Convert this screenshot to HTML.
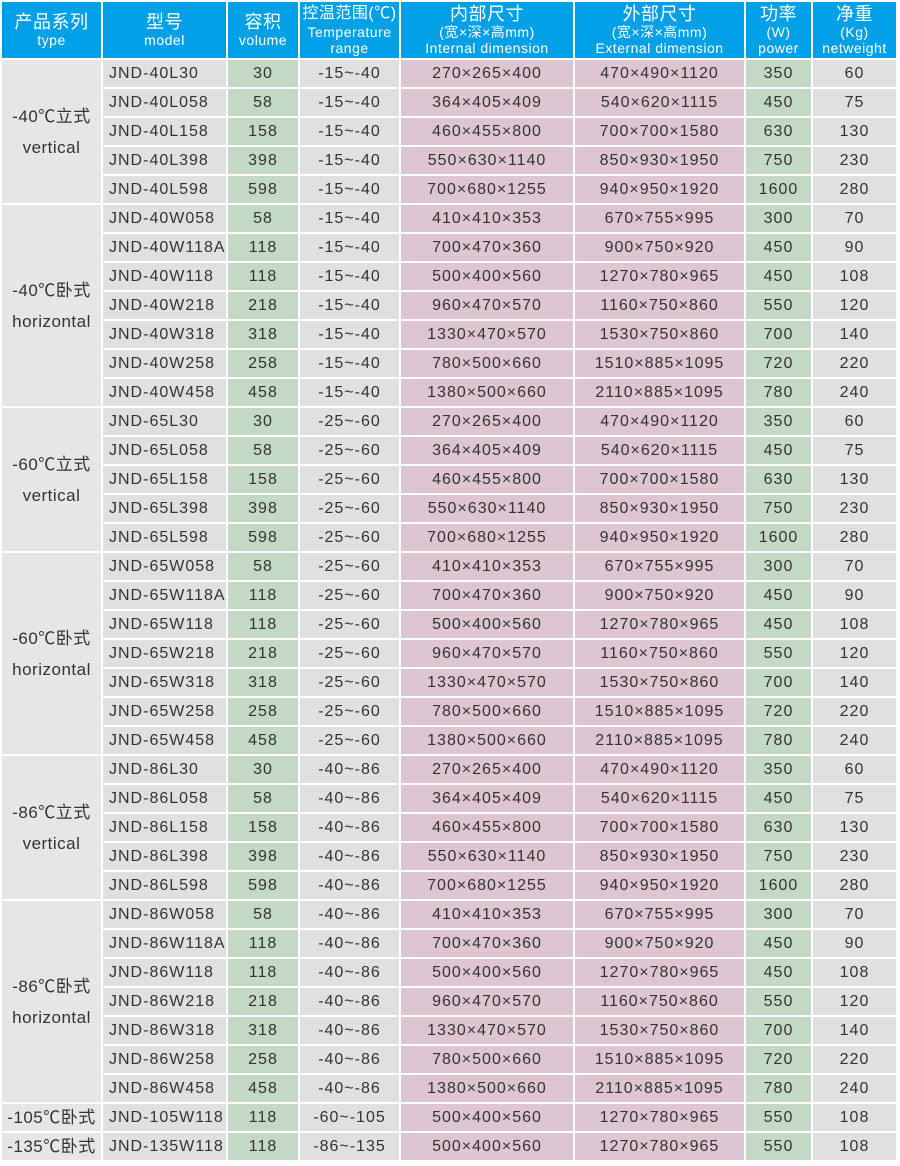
<!DOCTYPE html>
<html><head><meta charset="utf-8"><style>
body{margin:0;background:#fff;width:900px;height:1166px;overflow:hidden}
table{position:absolute;left:0;top:0;border-collapse:separate;border-spacing:2px;table-layout:fixed;width:898px;font-family:"Liberation Sans","Noto Sans CJK SC",sans-serif;color:#333;font-size:16px}
td{padding:0;height:27px;text-align:center;white-space:nowrap;overflow:hidden;letter-spacing:1px}
th{background:#00a0e6;color:#fff;font-weight:normal;height:56px;line-height:16px;font-size:14px;padding:0;letter-spacing:0.5px}
th b{font-weight:normal;font-size:18px;display:block;line-height:20px}
.t{background:#e6e6e6;font-size:17px;line-height:31px;letter-spacing:0.5px}
.m{background:#e0e0e0;text-align:left;padding-left:6px}
.g{background:#c3d8c5}
.p{background:#ddc5d1}
.w{background:#e0e0e0}
</style></head><body>
<table>
<colgroup><col style="width:99px"><col style="width:123px"><col style="width:70px"><col style="width:99px"><col style="width:172px"><col style="width:169px"><col style="width:65px"><col style="width:83px"></colgroup>
<tr><th><b>产品系列</b>type</th><th><b>型号</b>model</th><th><b>容积</b>volume</th><th><b style="font-size:16px">控温范围(℃)</b>Temperature<br>range</th><th><b>内部尺寸</b>(宽×深×高mm)<br>Internal dimension</th><th><b>外部尺寸</b>(宽×深×高mm)<br>External dimension</th><th><b>功率</b>(W)<br>power</th><th><b>净重</b>(Kg)<br>netweight</th></tr>
<tbody id="b"></tbody>
</table>
<script>
var groups=[["-40℃立式","vertical","40","-15~-40","L"],["-40℃卧式","horizontal","40","-15~-40","W"],["-60℃立式","vertical","65","-25~-60","L"],["-60℃卧式","horizontal","65","-25~-60","W"],["-86℃立式","vertical","86","-40~-86","L"],["-86℃卧式","horizontal","86","-40~-86","W"]];
var L=[["L30","30","270×265×400","470×490×1120","350","60"],["L058","58","364×405×409","540×620×1115","450","75"],["L158","158","460×455×800","700×700×1580","630","130"],["L398","398","550×630×1140","850×930×1950","750","230"],["L598","598","700×680×1255","940×950×1920","1600","280"]];
var W=[["W058","58","410×410×353","670×755×995","300","70"],["W118A","118","700×470×360","900×750×920","450","90"],["W118","118","500×400×560","1270×780×965","450","108"],["W218","218","960×470×570","1160×750×860","550","120"],["W318","318","1330×470×570","1530×750×860","700","140"],["W258","258","780×500×660","1510×885×1095","720","220"],["W458","458","1380×500×660","2110×885×1095","780","240"]];
var h="";
groups.forEach(function(g){var rs=g[4]=="L"?L:W;rs.forEach(function(r,i){h+="<tr>";if(i==0)h+='<td class="t" rowspan="'+rs.length+'">'+g[0]+'<br>'+g[1]+'</td>';h+='<td class="m">JND-'+g[2]+r[0]+'</td><td class="g">'+r[1]+'</td><td class="w">'+g[3]+'</td><td class="p">'+r[2]+'</td><td class="p">'+r[3]+'</td><td class="g">'+r[4]+'</td><td class="w">'+r[5]+'</td></tr>';});});
[["-105℃卧式","JND-105W118","-60~-105"],["-135℃卧式","JND-135W118","-86~-135"]].forEach(function(x){h+='<tr><td class="t" style="line-height:27px">'+x[0]+'</td><td class="m">'+x[1]+'</td><td class="g">118</td><td class="w">'+x[2]+'</td><td class="p">500×400×560</td><td class="p">1270×780×965</td><td class="g">550</td><td class="w">108</td></tr>';});
document.getElementById("b").innerHTML=h;
</script>
</body></html>
